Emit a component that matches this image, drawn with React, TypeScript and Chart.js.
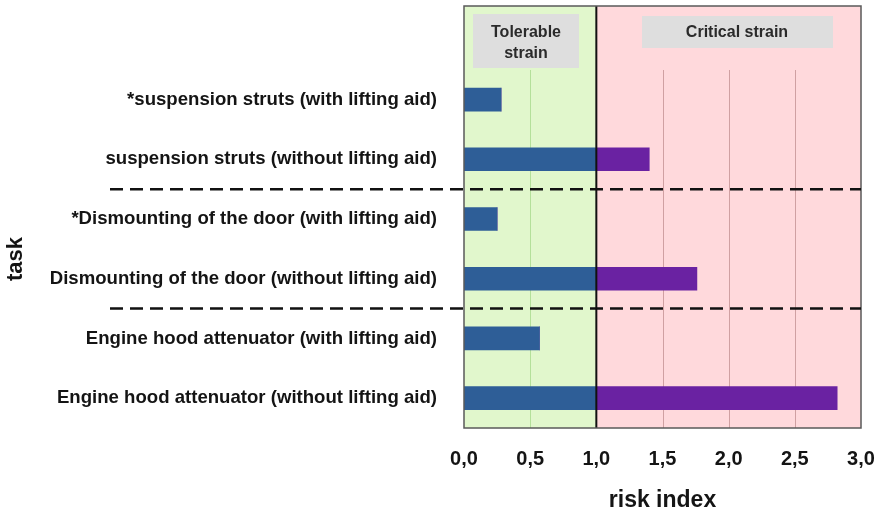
import React, { useEffect, useRef } from "react";
import { Chart, registerables } from "chart.js";

Chart.register(...registerables);

const categories = [
  "",
  "*suspension struts (with lifting aid)",
  "suspension struts (without lifting aid)",
  "*Dismounting of the door (with lifting aid)",
  "Dismounting of the door (without lifting aid)",
  "Engine hood attenuator (with lifting aid)",
  "Engine hood attenuator (without lifting aid)",
];
const riskIndex: (number | null)[] = [null, 0.28, 1.4, 0.25, 1.76, 0.57, 2.82];
const xTicks = [0, 0.5, 1, 1.5, 2, 2.5, 3];
const threshold = 1.0;
const zoneLabels = ["Tolerable", "strain", "Critical strain"];
const separatorsAfter = [2, 4]; // dashed lines after these category indices
const xTitle = "risk index";
const yTitle = "task";

const tolerablePart = riskIndex.map((v) => (v == null ? null : Math.min(v, threshold)));
const criticalPart = riskIndex.map((v) => (v == null ? null : Math.max(v - threshold, 0)));

const FONT = "'Liberation Sans', Arial, sans-serif";
const TEXT = "#141414";

const decor = {
  id: "decor",
  beforeDatasetsDraw(chart: any) {
    const { ctx, chartArea, scales } = chart;
    const x = scales.x;
    const top = 6;
    const bottom = chartArea.bottom;
    const x0 = x.getPixelForValue(0);
    const x1 = x.getPixelForValue(threshold);
    const x3 = x.getPixelForValue(3);
    ctx.save();
    ctx.fillStyle = "#e1f7cc";
    ctx.fillRect(x0, top, x1 - x0, bottom - top);
    ctx.fillStyle = "#ffd9dc";
    ctx.fillRect(x1, top, x3 - x1, bottom - top);
    // grid lines
    ctx.lineWidth = 1;
    xTicks.forEach((t) => {
      if (t === 0 || t === 3 || t === threshold) return;
      const px = Math.round(x.getPixelForValue(t)) + 0.5;
      ctx.strokeStyle = t < threshold ? "#b4e09a" : "#d0a0a2";
      ctx.beginPath();
      ctx.moveTo(px, 70);
      ctx.lineTo(px, bottom);
      ctx.stroke();
    });
    // zone label boxes
    ctx.fillStyle = "#dedede";
    ctx.fillRect(473, 14, 106, 54);
    ctx.fillRect(642, 16, 191, 32);
    ctx.fillStyle = "#2a2a2a";
    ctx.font = `bold 16px ${FONT}`;
    ctx.textAlign = "center";
    ctx.textBaseline = "middle";
    ctx.fillText(zoneLabels[0], 526, 33);
    ctx.fillText(zoneLabels[1], 526, 54);
    ctx.fillText(zoneLabels[2], 737, 33);
    ctx.restore();
  },
  afterDatasetsDraw(chart: any) {
    const { ctx, chartArea, scales } = chart;
    const x = scales.x;
    const y = scales.y;
    const top = 6;
    const bottom = chartArea.bottom;
    ctx.save();
    // threshold line
    const x1 = x.getPixelForValue(threshold);
    ctx.strokeStyle = "#111";
    ctx.lineWidth = 2;
    ctx.beginPath();
    ctx.moveTo(x1, top);
    ctx.lineTo(x1, bottom);
    ctx.stroke();
    // border
    ctx.strokeStyle = "#5a5a5a";
    ctx.lineWidth = 1.5;
    ctx.strokeRect(chartArea.left, top, chartArea.right - chartArea.left, bottom - top);
    // dashed separators
    ctx.strokeStyle = "#111";
    ctx.lineWidth = 2.5;
    ctx.setLineDash([13, 7]);
    separatorsAfter.forEach((i) => {
      const py = (y.getPixelForValue(i) + y.getPixelForValue(i + 1)) / 2;
      ctx.beginPath();
      ctx.moveTo(110, py);
      ctx.lineTo(chartArea.right, py);
      ctx.stroke();
    });
    ctx.setLineDash([]);
    // titles
    ctx.fillStyle = TEXT;
    ctx.textAlign = "center";
    ctx.textBaseline = "middle";
    ctx.font = `bold 23px ${FONT}`;
    ctx.fillText(xTitle, (chartArea.left + chartArea.right) / 2, 501);
    ctx.translate(16, 259);
    ctx.rotate(-Math.PI / 2);
    ctx.font = `bold 22px ${FONT}`;
    ctx.fillText(yTitle, 0, 0);
    ctx.restore();
  },
};

export default function App() {
  const ref = useRef<HTMLCanvasElement>(null);
  useEffect(() => {
    if (!ref.current) return;
    const chart = new Chart(ref.current, {
      type: "bar",
      data: {
        labels: categories,
        datasets: [
          {
            label: "tolerable",
            data: tolerablePart,
            backgroundColor: "#2e5e97",
            barThickness: 23,
          },
          {
            label: "critical",
            data: criticalPart,
            backgroundColor: "#6a22a2",
            barThickness: 23,
          },
        ],
      },
      options: {
        indexAxis: "y",
        responsive: false,
        animation: false,
        layout: { padding: { top: 10, right: 20, left: 0, bottom: 0 } },
        plugins: {
          legend: { display: false },
          tooltip: { enabled: false },
        },
        scales: {
          x: {
            stacked: true,
            min: 0,
            max: 3,
            afterFit: (s: any) => {
              s.height = 86;
              s.paddingLeft = 0;
              s.paddingRight = 0;
            },
            afterBuildTicks: (s: any) => {
              s.ticks = xTicks.map((v) => ({ value: v }));
            },
            grid: { display: false, drawTicks: false },
            border: { display: false },
            ticks: {
              padding: 19,
              color: TEXT,
              font: { family: FONT, size: 20, weight: "bold" },
              callback: (v: any) => Number(v).toFixed(1).replace(".", ","),
            },
          },
          y: {
            stacked: true,
            afterFit: (s: any) => {
              s.width = 464;
              s.paddingTop = 0;
              s.paddingBottom = 0;
            },
            grid: { display: false, drawTicks: false },
            border: { display: false },
            ticks: {
              padding: 27,
              color: TEXT,
              font: { family: FONT, size: 18.6, weight: "bold" },
            },
          },
        },
      },
      plugins: [decor],
    });
    return () => chart.destroy();
  }, []);
  return (
    <div style={{ position: "fixed", left: 0, top: 0, width: 881, height: 514, background: "#fff" }}>
      <canvas ref={ref} width={881} height={514} style={{ display: "block" }} />
    </div>
  );
}
